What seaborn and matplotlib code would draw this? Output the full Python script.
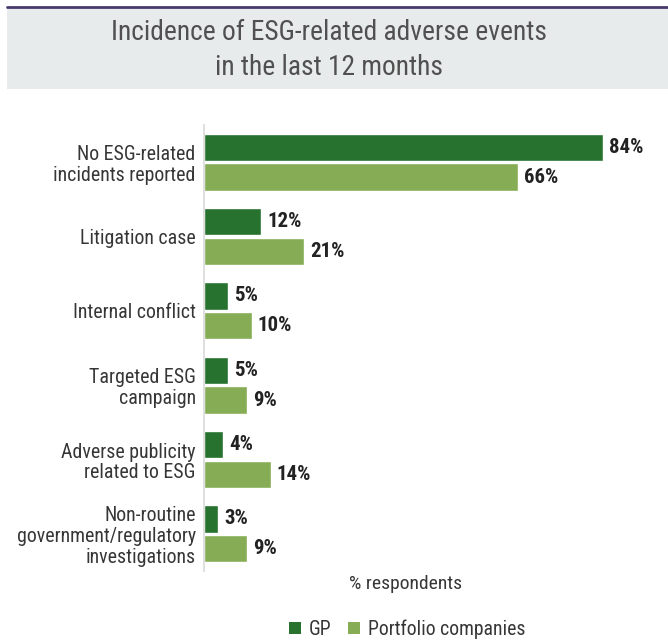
import matplotlib
matplotlib.use("Agg")
import matplotlib.pyplot as plt
from matplotlib.patches import Rectangle
from matplotlib.lines import Line2D
import seaborn as sns
import pandas as pd

categories = [
    "No ESG-related\nincidents reported",
    "Litigation case",
    "Internal conflict",
    "Targeted ESG\ncampaign",
    "Adverse publicity\nrelated to ESG",
    "Non-routine\ngovernment/regulatory\ninvestigations",
]
gp_values = [84, 12, 5, 5, 4, 3]
portfolio_values = [66, 21, 10, 9, 14, 9]
series_names = ["GP", "Portfolio companies"]
colors = ["#26722e", "#86ad55"]

df = pd.DataFrame({
    "category": categories * 2,
    "series": [series_names[0]] * len(categories) + [series_names[1]] * len(categories),
    "value": gp_values + portfolio_values,
})

sns.set_theme(style="white")
plt.rcParams["font.family"] = ["Liberation Sans Narrow", "Roboto Condensed", "DejaVu Sans"]
text_color = "#363636"

fig = plt.figure(figsize=(6.68, 6.41), dpi=100)
W, H = 668, 641

# title band
fig.patches.append(Rectangle((7 / W, 1 - 89 / H), 1, 82 / H, transform=fig.transFigure,
                             facecolor="#e8ebec", edgecolor="none", zorder=0))
fig.lines.append(Line2D([7 / W, 1], [1 - 6.5 / H, 1 - 6.5 / H], transform=fig.transFigure,
                        color="#483b6c", linewidth=2))
fig.text(329 / W, 1 - 32 / H, "Incidence of ESG-related adverse events",
         ha="center", va="center", fontsize=19.8, color="#505050")
fig.text(329 / W, 1 - 67.5 / H, "in the last 12 months",
         ha="center", va="center", fontsize=19.8, color="#505050")

ax = fig.add_axes([204 / W, 1 - 571 / H, (608 - 204) / W, (571 - 125) / H])
sns.barplot(data=df, y="category", x="value", hue="series", palette=colors,
            orient="h", width=0.8, gap=0.08, ax=ax, legend=False, saturation=1)
ax.set_xlim(0, 85)
ax.set_ylim(len(categories) - 0.5, -0.5)

for container in ax.containers:
    ax.bar_label(container, labels=[f"{v:.0f}%" for v in container.datavalues],
                 padding=4.5, fontsize=15, fontweight="bold", color="#222222", clip_on=False)

ax.set_xticks([])
ax.set_ylabel("")
ax.set_xlabel("")
ax.tick_params(axis="y", length=0, pad=6, labelsize=14.3, labelcolor=text_color)
for lbl in ax.get_yticklabels():
    lbl.set_ha("right")
    lbl.set_multialignment("right")
    lbl.set_linespacing(1.12)
for side in ["top", "right", "bottom"]:
    ax.spines[side].set_visible(False)
ax.spines["left"].set_color("#d9d9d9")
ax.spines["left"].set_linewidth(1.2)

fig.text(406 / W, 1 - 584 / H, "% respondents", ha="center", va="center",
         fontsize=14, color=text_color)

handles = [Rectangle((0, 0), 1, 1, facecolor=c, edgecolor="none") for c in colors]
fig.legend(handles, series_names, loc="center", bbox_to_anchor=(407 / W, 1 - 629 / H),
           ncol=2, frameon=False, fontsize=14.2, handlelength=0.6, handleheight=0.6,
           handletextpad=0.4, columnspacing=0.85, labelcolor=text_color)

fig.savefig("out.png", dpi=100)
